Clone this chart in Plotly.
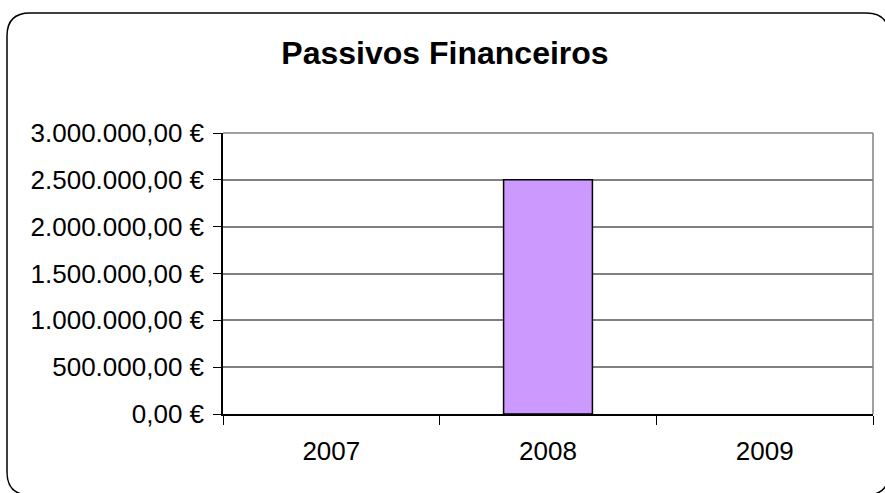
import plotly.graph_objects as go

years = ["2007", "2008", "2009"]
passivos = [0, 2500000, 0]
y_tick_values = [0, 500000, 1000000, 1500000, 2000000, 2500000, 3000000]
y_tick_labels = ["0,00 €", "500.000,00 €", "1.000.000,00 €", "1.500.000,00 €",
                 "2.000.000,00 €", "2.500.000,00 €", "3.000.000,00 €"]

W, H = 885, 493
L, R, T, B = 223, 873, 133, 414
pw, ph = R - L, B - T

def px(x):
    return (x - L) / pw

def py(y):
    return (B - y) / ph

fig = go.Figure()
fig.add_trace(go.Bar(
    x=years, y=passivos,
    marker=dict(color="#CC99FF",
                line=dict(color="black", width=[1.5 if v else 0 for v in passivos])),
    width=0.41,
))

# rounded frame
fx0, fy0, fx1, fy1, r = 7, 13, 889, 495, 23
path = (
    f"M {px(fx0)},{py(fy0 + r)} "
    f"Q {px(fx0)},{py(fy0)} {px(fx0 + r)},{py(fy0)} "
    f"L {px(fx1 - r)},{py(fy0)} "
    f"Q {px(fx1)},{py(fy0)} {px(fx1)},{py(fy0 + r)} "
    f"L {px(fx1)},{py(fy1 - r)} "
    f"Q {px(fx1)},{py(fy1)} {px(fx1 - r)},{py(fy1)} "
    f"L {px(fx0 + r)},{py(fy1)} "
    f"Q {px(fx0)},{py(fy1)} {px(fx0)},{py(fy1 - r)} Z"
)
shapes = [
    dict(type="path", xref="paper", yref="paper", path=path,
         line=dict(color="black", width=1.5), layer="below"),
    dict(type="line", xref="paper", yref="paper", x0=1, x1=1, y0=0, y1=1,
         line=dict(color="#808080", width=1.5)),
    dict(type="line", xref="paper", yref="paper", x0=0, x1=1, y0=1, y1=1,
         line=dict(color="#808080", width=1.5)),
]

fig.update_layout(
    width=W, height=H,
    margin=dict(l=L, r=W - R, t=T, b=H - B, pad=0),
    paper_bgcolor="white", plot_bgcolor="white",
    font=dict(family="Liberation Sans, Arial, sans-serif", color="black", size=26),
    title=dict(text="<b>Passivos Financeiros</b>", x=445 / W, xanchor="center",
               y=1 - 53 / H, yanchor="middle",
               font=dict(size=32, color="black")),
    showlegend=False,
    bargap=0.59,
    shapes=shapes,
    xaxis=dict(type="category", tickson="boundaries", ticks="outside", ticklen=9,
               tickcolor="black", showline=True, linecolor="black", linewidth=1.5,
               showgrid=False, fixedrange=True, ticklabelstandoff=13),
    yaxis=dict(range=[0, 3000000], tickvals=y_tick_values, ticktext=y_tick_labels,
               ticks="outside", ticklen=8, tickcolor="black", showline=True,
               linecolor="black", linewidth=1.5, showgrid=True, gridcolor="#808080",
               gridwidth=1.5, zeroline=False, ticklabelstandoff=4, fixedrange=True),
)

fig.write_html("out.html", config={"displayModeBar": False},
               post_script="document.body.style.margin='0';document.body.style.padding='0';")
